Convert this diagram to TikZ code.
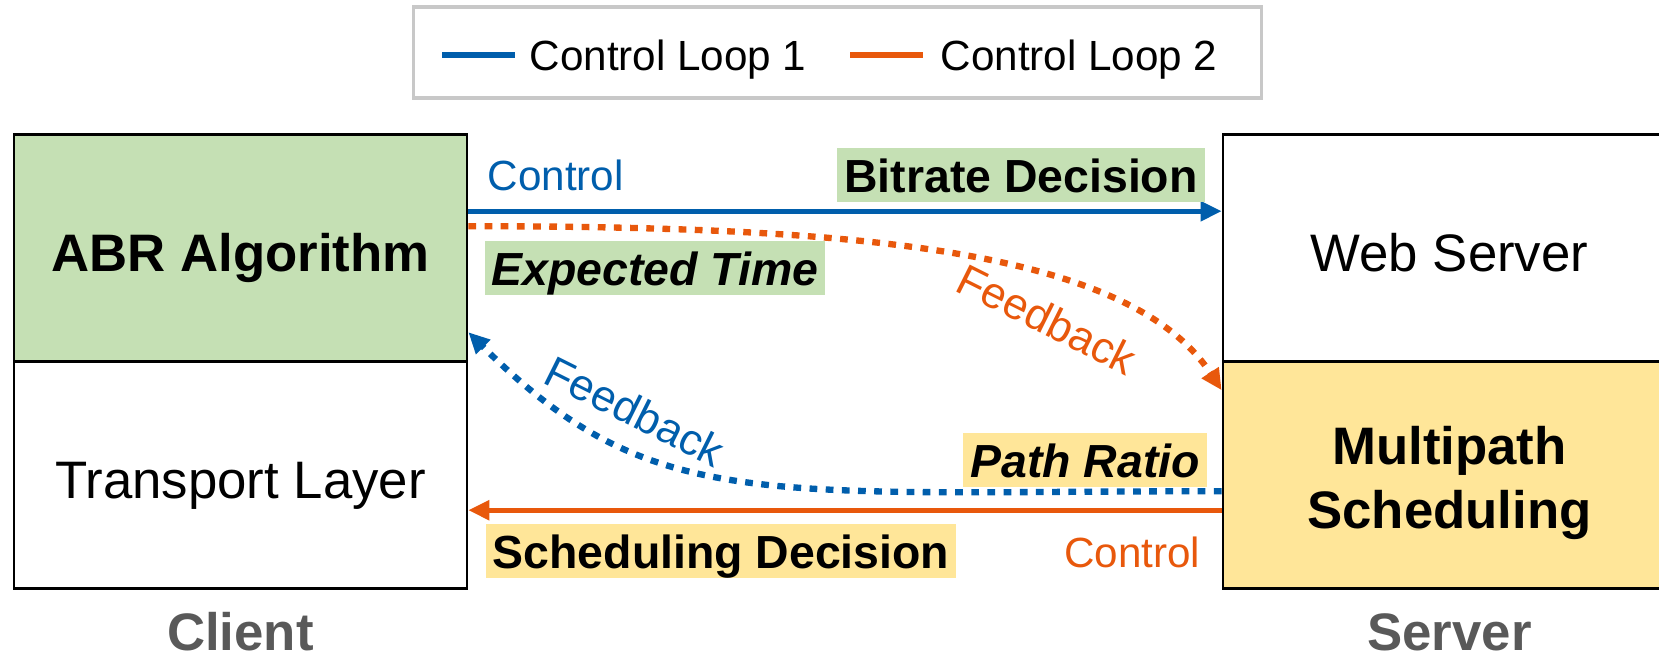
\documentclass[tikz,border=0pt]{standalone}
\usepackage{fontspec}
\setmainfont{Liberation Sans}
\usetikzlibrary{arrows.meta, calc}

\definecolor{loopblue}{RGB}{0,94,172}
\definecolor{looporange}{RGB}{232,88,12}
\definecolor{abrgreen}{RGB}{197,224,180}
\definecolor{schedyellow}{RGB}{255,230,153}
\definecolor{sidegray}{RGB}{89,89,89}
\definecolor{legendgray}{RGB}{200,200,200}

\tikzset{
	layer/.style={draw=black, line width=0.7pt, minimum width=4.53cm, minimum height=2.27cm,
		inner sep=0pt, align=center, font=\fontsize{15}{18.2}\selectfont},
	onerow/.style={text height=0.46cm, text depth=0pt},
	tag/.style={inner xsep=0.07cm, inner ysep=0pt, text height=0.44cm, text depth=0.1cm,
		font=\fontsize{13.2}{16}\selectfont\bfseries},
	small/.style={inner sep=0pt, font=\fontsize{12}{14}\selectfont},
	loopone/.style={draw=loopblue, line width=1.4pt},
	looptwo/.style={draw=looporange, line width=1.4pt},
	dots/.style={line width=1.8pt, dash pattern=on 2.2pt off 2.4pt},
	tip/.style={-{Triangle[length=6pt, width=5.5pt]}}
}

\begin{document}
\begin{tikzpicture}[x=0.01cm, y=-0.01cm]
	\useasboundingbox (0,0) rectangle (1659,657);

	% legend
	\node (legend) [draw=legendgray, line width=0.9pt, minimum width=8.47cm, minimum height=0.91cm] at (837.5,52.5) {};
	\node (loop1) [small, anchor=base west] at (529,70) {Control Loop 1};
	\node (loop2) [small, anchor=base west] at (940,70) {Control Loop 2};
	\draw [loopone, line width=1.8pt] (442,55) -- (515,55);
	\draw [looptwo, line width=1.8pt] (850,55) -- (923,55);

	% client and server
	\node (abr) [layer, onerow, fill=abrgreen] at (240.5,248) {\bfseries ABR Algorithm};
	\node (transport) [layer, onerow] at (240.5,475) {Transport Layer};
	\node (web) [layer, onerow] at (1449.5,248) {Web Server};
	\node (sched) [layer, fill=schedyellow, text height=1.06cm, text depth=0pt] at (1449.5,475) {\bfseries Multipath\\\bfseries Scheduling};
	\node (client) [anchor=base, text=sidegray, font=\fontsize{15}{18}\selectfont\bfseries] at (240.5,650) {Client};
	\node (server) [anchor=base, text=sidegray, font=\fontsize{15}{18}\selectfont\bfseries] at (1449.5,650) {Server};

	% control loop 1
	\coordinate (bitL) at ($(abr.north east)+(0,78)$);
	\coordinate (bitR) at ($(web.north west)+(0,78)$);
	\draw [loopone, tip] (bitL) -- (bitR);
	\node (ctl1) [small, text=loopblue, anchor=base west] at (487,190) {Control};
	\node (bitrate) [tag, fill=abrgreen, anchor=base] at (1021,192) {Bitrate Decision};

	\coordinate (fb1R) at ($(sched.north west)+(0,131)$);
	\coordinate (fb1L) at ($(abr.north east)+(0,199)$);
	\draw [loopone, dots, tip] (fb1R) .. controls +(-463,0) and +(183,182) .. (fb1L);
	\node (fb1) [small, font=\fontsize{12.5}{15}\selectfont, text=loopblue, rotate=-26.5] at (635,411) {Feedback};
	\node (ratio) [tag, fill=schedyellow, font=\fontsize{13.2}{16}\selectfont\bfseries\itshape, anchor=base] at (1085,477) {Path Ratio};

	% control loop 2
	\coordinate (schR) at ($(sched.north west)+(0,150)$);
	\coordinate (schL) at ($(transport.north east)+(0,150)$);
	\draw [looptwo, tip] (schR) -- (schL);
	\node (ctl2) [small, text=looporange, anchor=base east] at (1201,567) {Control};
	\node (decision) [tag, fill=schedyellow, anchor=base] at (721,568) {Scheduling Decision};

	\coordinate (fb2L) at ($(abr.north east)+(0,93)$);
	\coordinate (fb2R) at ($(sched.north west)+(0,30)$);
	\draw [looptwo, dots, tip] (fb2L) .. controls +(383,0) and +(-93,-142) .. (fb2R);
	\node (fb2) [small, font=\fontsize{12.5}{15}\selectfont, text=looporange, rotate=-26.5] at (1047,319) {Feedback};
	\node (expected) [tag, fill=abrgreen, font=\fontsize{13.2}{16}\selectfont\bfseries\itshape, anchor=base] at (655,285) {Expected Time};

\end{tikzpicture}
\end{document}
